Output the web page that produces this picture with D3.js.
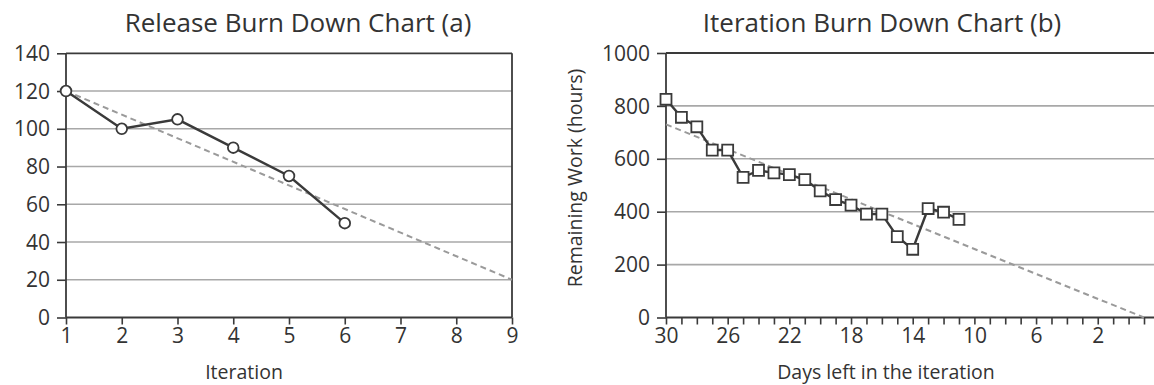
<!DOCTYPE html>
<html><head><meta charset="utf-8">
<script src="https://cdn.jsdelivr.net/npm/d3@7"></script>
<style>body{margin:0;background:#fff}svg{display:block}text{font-family:"Open Sans","Noto Sans",sans-serif;fill:#333}</style>
</head><body><svg id="c" width="1154" height="385"></svg>
<script>
// Chart (a)
const releaseIter = [1,2,3,4,5,6];
const releaseRemaining = [120,100,105,90,75,50];
const releaseIdeal = [[1,120],[9,20]];
const releaseYTicks = [0,20,40,60,80,100,120,140];
const releaseXTicks = [1,2,3,4,5,6,7,8,9];
// Chart (b)
const iterDays = [30,29,28,27,26,25,24,23,22,21,20,19,18,17,16,15,14,13,12,11];
const iterRemaining = [825,757,721,633,633,530,556,547,540,521,479,446,425,391,391,306,258,412,398,371];
const iterIdeal = [[30,730],[-1,0]];
const iterYTicks = [0,200,400,600,800,1000];
const iterXLabels = [30,26,22,18,14,10,6,2];
const iterXTicks = d3.range(30,-2,-1);

const svg = d3.select("#c");
const dark="#3a3a3a", grid="#a8a8a8", dash="#9a9a9a";

function panel(o){
  const g = svg.append("g");
  const x = d3.scaleLinear().domain(o.xDom).range(o.xRange);
  const y = d3.scaleLinear().domain(o.yDom).range(o.yRange);
  g.selectAll(".gl").data(o.yTicks.slice(1,-1)).join("line")
    .attr("x1",o.xRange[0]).attr("x2",o.frameRight).attr("y1",d=>y(d)).attr("y2",d=>y(d))
    .attr("stroke",grid).attr("stroke-width",1.6);
  g.append("line").attr("x1",o.xRange[0]).attr("x2",o.frameRight)
    .attr("y1",y(o.yDom[1])).attr("y2",y(o.yDom[1])).attr("stroke",dark).attr("stroke-width",1.8);
  if(o.rightBorder) g.append("line").attr("x1",o.frameRight).attr("x2",o.frameRight)
    .attr("y1",y(o.yDom[1])).attr("y2",y(0)).attr("stroke",dark).attr("stroke-width",1.8);
  const ya = g.append("g").attr("transform",`translate(${o.xRange[0]},0)`)
    .call(d3.axisLeft(y).tickValues(o.yTicks).tickSize(9).tickPadding(7).tickFormat(d3.format("d")));
  ya.select(".domain").attr("stroke",dark).attr("stroke-width",1.8).attr("d",`M0,${y(0)}V${y(o.yDom[1])}`);
  ya.selectAll(".tick line").attr("stroke",dark).attr("stroke-width",1.6);
  ya.selectAll(".tick text").attr("font-size",21).attr("fill","#333").attr("dy","0.34em");
  const xa = g.append("g").attr("transform",`translate(0,${y(0)})`)
    .call(d3.axisBottom(x).tickValues(o.xTicks).tickSize(7).tickPadding(2).tickFormat(d=>o.xLabels.includes(d)?d:""));
  xa.select(".domain").attr("stroke",dark).attr("stroke-width",1.8).attr("d",`M${o.xRange[0]},0H${o.frameRight}`);
  xa.selectAll(".tick line").attr("stroke",dark).attr("stroke-width",1.6);
  xa.selectAll(".tick text").attr("font-size",21).attr("fill","#333").attr("dy","0.8em");
  g.append("path").attr("d",d3.line().x(d=>x(d[0])).y(d=>y(d[1]))(o.ideal))
    .attr("fill","none").attr("stroke",dash).attr("stroke-width",2).attr("stroke-dasharray","6,4");
  const pts = o.xs.map((d,i)=>[d,o.ys[i]]);
  g.append("path").attr("d",d3.line().x(d=>x(d[0])).y(d=>y(d[1]))(pts))
    .attr("fill","none").attr("stroke",dark).attr("stroke-width",2.4);
  const sym = d3.symbol().type(o.marker).size(o.markerSize);
  g.selectAll(".m").data(pts).join("path").attr("d",sym)
    .attr("transform",d=>`translate(${x(d[0])},${y(d[1])})`)
    .attr("fill","#fff").attr("stroke",dark).attr("stroke-width",1.8);
  svg.append("text").attr("x",o.titleX).attr("y",32).attr("text-anchor","middle")
    .attr("font-size",26).text(o.title);
  svg.append("text").attr("x",o.xTitleX).attr("y",379).attr("text-anchor","middle")
    .attr("font-size",19.5).text(o.xTitle);
  if(o.yTitle) svg.append("text").attr("transform",`translate(${o.yTitleX},${o.yTitleY}) rotate(-90)`)
    .attr("text-anchor","middle").attr("font-size",19.5).text(o.yTitle);
}

panel({xDom:[1,9], xRange:[66,512], yDom:[0,140], yRange:[317.5,53.3], frameRight:512, rightBorder:true,
  yTicks:releaseYTicks, xTicks:releaseXTicks, xLabels:releaseXTicks, ideal:releaseIdeal,
  xs:releaseIter, ys:releaseRemaining, marker:d3.symbolCircle, markerSize:90,
  title:"Release Burn Down Chart (a)", titleX:298, xTitle:"Iteration", xTitleX:244});

panel({xDom:[30,-1], xRange:[666,1144], yDom:[0,1000], yRange:[317.5,53], frameRight:1160, rightBorder:false,
  yTicks:iterYTicks, xTicks:iterXTicks, xLabels:iterXLabels, ideal:iterIdeal,
  xs:iterDays, ys:iterRemaining, marker:d3.symbolSquare, markerSize:120,
  title:"Iteration Burn Down Chart (b)", titleX:882, xTitle:"Days left in the iteration", xTitleX:886,
  yTitle:"Remaining Work (hours)", yTitleX:582, yTitleY:178});
</script></body></html>
